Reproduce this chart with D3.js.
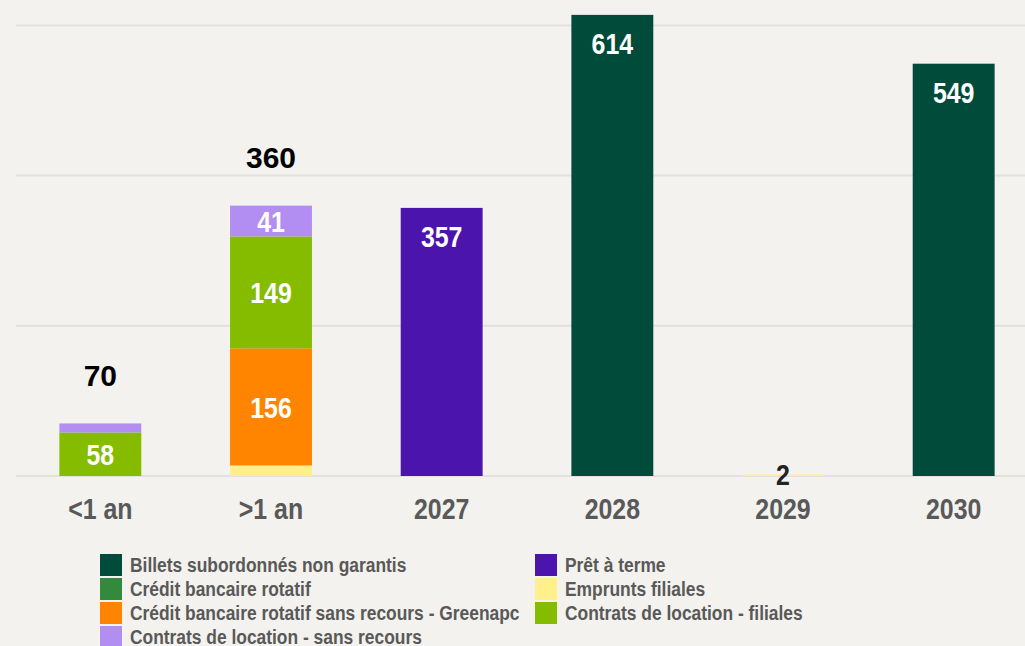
<!DOCTYPE html>
<html><head><meta charset="utf-8">
<script src="https://cdn.jsdelivr.net/npm/d3@7/dist/d3.min.js"></script>
<style>
html,body{margin:0;padding:0;background:#F3F2EE;}
svg{display:block;}
</style></head>
<body><svg id="c" width="1025" height="646"></svg>
<script>
const categories = ["<1 an", ">1 an", "2027", "2028", "2029", "2030"];
const seriesNames = [
  "Billets subordonnés non garantis",
  "Prêt à terme",
  "Crédit bancaire rotatif",
  "Emprunts filiales",
  "Crédit bancaire rotatif sans recours - Greenapc",
  "Contrats de location - filiales",
  "Contrats de location - sans recours"
];
const seriesColors = ["#004B3A", "#4B14AD", "#338A3C", "#FFF08C", "#FF8500", "#85BC00", "#B38EF2"];
const labelColors  = ["#FFFFFF", "#FFFFFF", "#FFFFFF", "#222222", "#FFFFFF", "#FFFFFF", "#FFFFFF"];
// values per series, by category
const billets        = [0, 0, 0, 614, 0, 549];
const pretTerme      = [0, 0, 357, 0, 0, 0];
const creditRotatif  = [0, 0, 0, 0, 0, 0];
const empruntsFil    = [0, 14, 0, 0, 2, 0];
const creditGreenapc = [0, 156, 0, 0, 0, 0];
const locFiliales    = [58, 149, 0, 0, 0, 0];
const locSansRecours = [12, 41, 0, 0, 0, 0];
const totals         = [70, 360, 357, 614, 2, 549];
const yTicks = [0, 200, 400, 600];
// legend layout order (row-major, two columns)
const legendOrder = [0, 1, 2, 3, 4, 5, 6];

const seriesValues = [billets, pretTerme, creditRotatif, empruntsFil, creditGreenapc, locFiliales, locSansRecours];

const svg = d3.select("#c");
const W = 1025;
const font = "'Liberation Sans', Arial, sans-serif";
const NARROW = 0.83;

function narrowText(sel, tx, ty, str, size, color, anchor, sx) {
  const g = sel.append("g").attr("transform", `translate(${tx},${ty}) scale(${sx},1)`);
  g.append("text").attr("x", 0).attr("y", 0).attr("dy", "0.36em")
    .attr("text-anchor", anchor)
    .attr("font-family", font).attr("font-weight", "bold").attr("font-size", size)
    .attr("fill", color).text(str);
  return g;
}

const x = d3.scaleBand().domain(categories).range([15, 1039]).paddingInner(0.52).paddingOuter(0.26);
const y = d3.scaleLinear().domain([0, 600]).range([476, 25.4]);

// gridlines
svg.append("g").selectAll("line").data(yTicks).join("line")
  .attr("x1", 16).attr("x2", W)
  .attr("y1", d => y(d)).attr("y2", d => y(d))
  .attr("stroke", "#E2E1DD").attr("stroke-width", 2);

// stack
const rows = categories.map((c, i) => {
  const o = {cat: c};
  seriesNames.forEach((s, k) => o[s] = seriesValues[k][i]);
  return o;
});
const stack = d3.stack().keys(seriesNames)(rows);

const segs = [];
stack.forEach((layer, k) => {
  layer.forEach((d, i) => {
    const v = d[1] - d[0];
    if (v > 0) segs.push({k, i, y0: d[0], y1: d[1], v});
  });
});

svg.append("g").selectAll("rect").data(segs).join("rect")
  .attr("x", d => x(categories[d.i]))
  .attr("width", x.bandwidth())
  .attr("y", d => y(d.y1))
  .attr("height", d => y(d.y0) - y(d.y1))
  .attr("fill", d => seriesColors[d.k]);

// segment labels
const segCount = categories.map((c, i) => segs.filter(s => s.i === i).length);
const lab = svg.append("g");
segs.forEach(d => {
  const h = y(d.y0) - y(d.y1);
  const single = segCount[d.i] === 1;
  let cy;
  if (single) {
    cy = h > 60 ? y(d.y1) + 28 : (y(d.y0) + y(d.y1)) / 2 - 1.5;
  } else {
    if (h < 20) return;
    cy = (y(d.y0) + y(d.y1)) / 2;
  }
  narrowText(lab, x(categories[d.i]) + x.bandwidth() / 2, cy, d.v, 30, labelColors[d.k], "middle", NARROW);
});

// total labels for stacked bars
categories.forEach((c, i) => {
  if (segCount[i] > 1) {
    svg.append("text")
      .attr("x", x(c) + x.bandwidth() / 2)
      .attr("y", y(totals[i]) - 48)
      .attr("dy", "0.36em")
      .attr("text-anchor", "middle")
      .attr("font-family", font).attr("font-weight", "bold").attr("font-size", 30)
      .attr("fill", "#000")
      .text(totals[i]);
  }
});

// x axis labels
const xAxis = d3.axisBottom(x).tickSize(0).tickPadding(0).tickFormat(() => "");
const gx = svg.append("g").attr("transform", "translate(0,476)").call(xAxis);
gx.select(".domain").remove();
gx.selectAll(".tick").each(function(d) {
  narrowText(d3.select(this), 0, 32, d, 30, "#595959", "middle", NARROW);
});

// legend
const lg = svg.append("g");
legendOrder.forEach((k, j) => {
  const col = j % 2, row = Math.floor(j / 2);
  const lx = col === 0 ? 100 : 535;
  const ly = 565 + row * 24;
  lg.append("rect").attr("x", lx).attr("y", ly - 11).attr("width", 22).attr("height", 22)
    .attr("fill", seriesColors[k]);
  narrowText(lg, lx + 30, ly, seriesNames[k], 20, "#595959", "start", 0.87);
});
</script>
</body></html>
